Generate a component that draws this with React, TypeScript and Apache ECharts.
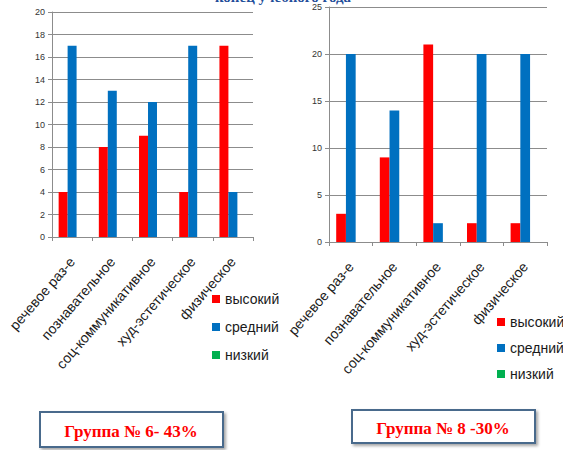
import React, { useEffect, useRef } from "react";
import * as echarts from "echarts";

const categories = [
  "речевое раз-е",
  "познавательное",
  "соц-коммуникативное",
  "худ-эстетическое",
  "физическое",
];
const seriesNames = ["высокий", "средний", "низкий"];
const group6High = [4, 8, 9, 4, 17];
const group6Mid = [17, 13, 12, 17, 4];
const group6Low = [0, 0, 0, 0, 0];
const group8High = [3, 9, 21, 2, 2];
const group8Mid = [20, 14, 2, 20, 20];
const group8Low = [0, 0, 0, 0, 0];
const titleText = "конец учебного года";
const box6Text = "Группа № 6- 43%";
const box8Text = "Группа № 8 -30%";

const colors = ["#ff0000", "#0070c0", "#00b050"];

export default function App() {
  const ref = useRef<HTMLDivElement>(null);
  useEffect(() => {
    if (!ref.current) return;
    const chart = echarts.init(ref.current, null, { renderer: "svg" });
    const font = "'Liberation Sans', Arial, sans-serif";
    const mkX = (gridIndex: number) => ({
      type: "category",
      gridIndex,
      data: categories,
      axisLine: { show: true, lineStyle: { color: "#8c8c8c", width: 1 } },
      axisTick: { show: true, length: 4, lineStyle: { color: "#8c8c8c" } },
      axisLabel: {
        rotate: 49,
        margin: 22,
        fontSize: 14,
        color: "#1a1a1a",
        fontFamily: font,
        interval: 0,
      },
      splitLine: { show: false },
    });
    const mkY = (gridIndex: number, max: number, interval: number) => ({
      type: "value",
      gridIndex,
      min: 0,
      max,
      interval,
      axisLine: { show: true, lineStyle: { color: "#8c8c8c", width: 1 } },
      axisTick: { show: true, length: 4, lineStyle: { color: "#8c8c8c" } },
      axisLabel: { fontSize: 9, color: "#333", fontFamily: font, margin: 7 },
      splitLine: { show: true, lineStyle: { color: "#8c8c8c", width: 1 } },
    });
    const data6 = [group6High, group6Mid, group6Low];
    const data8 = [group8High, group8Mid, group8Low];
    const series: any[] = [];
    data6.forEach((d, i) =>
      series.push({
        type: "bar",
        name: seriesNames[i],
        xAxisIndex: 0,
        yAxisIndex: 0,
        data: d,
        barGap: "0%",
        barCategoryGap: "33%",
        itemStyle: { color: colors[i] },
      })
    );
    data8.forEach((d, i) =>
      series.push({
        type: "bar",
        name: seriesNames[i],
        xAxisIndex: 1,
        yAxisIndex: 1,
        data: d,
        barGap: "0%",
        barCategoryGap: "33%",
        itemStyle: { color: colors[i] },
      })
    );
    const legendBase = {
      orient: "vertical",
      data: seriesNames,
      icon: "rect",
      itemWidth: 8,
      itemHeight: 8,
      itemGap: 14,
      padding: 0,
      selectedMode: false,
      textStyle: { fontSize: 14, color: "#1a1a1a", fontFamily: font },
    };
    const boxStyle = {
      fill: "#ffffff",
      stroke: "#4a6b8c",
      lineWidth: 2,
      shadowBlur: 3,
      shadowColor: "rgba(0,0,0,0.35)",
      shadowOffsetX: 2,
      shadowOffsetY: 2,
    };
    const boxTextStyle = {
      fill: "#ff0000",
      font: "bold 17px 'Liberation Serif', 'Times New Roman', serif",
      align: "center",
      verticalAlign: "middle",
    };
    chart.setOption({
      animation: false,
      grid: [
        { left: 52, top: 12, width: 201, height: 225 },
        { left: 329, top: 7, width: 218, height: 235 },
      ],
      xAxis: [mkX(0), mkX(1)],
      yAxis: [mkY(0, 20, 2), mkY(1, 25, 5)],
      legend: [
        { ...legendBase, left: 212, top: 292, itemGap: 14 },
        { ...legendBase, left: 497, top: 315, itemGap: 12 },
      ],
      series,
      graphic: [
        {
          type: "text",
          x: 283,
          y: -3.5,
          style: {
            text: titleText,
            fill: "#1f4e9a",
            font: "bold 15px 'Liberation Serif', 'Times New Roman', serif",
            align: "center",
            verticalAlign: "middle",
          },
        },
        {
          type: "rect",
          shape: { x: 40, y: 412, width: 183, height: 35 },
          style: boxStyle,
        },
        {
          type: "text",
          x: 131,
          y: 431,
          style: { ...boxTextStyle, text: box6Text },
        },
        {
          type: "rect",
          shape: { x: 352, y: 410, width: 183, height: 33 },
          style: boxStyle,
        },
        {
          type: "text",
          x: 443,
          y: 428,
          style: { ...boxTextStyle, text: box8Text },
        },
      ],
    });
    return () => chart.dispose();
  }, []);
  return (
    <div
      ref={ref}
      style={{ position: "fixed", left: 0, top: 0, width: 563, height: 450, background: "#fff" }}
    />
  );
}
